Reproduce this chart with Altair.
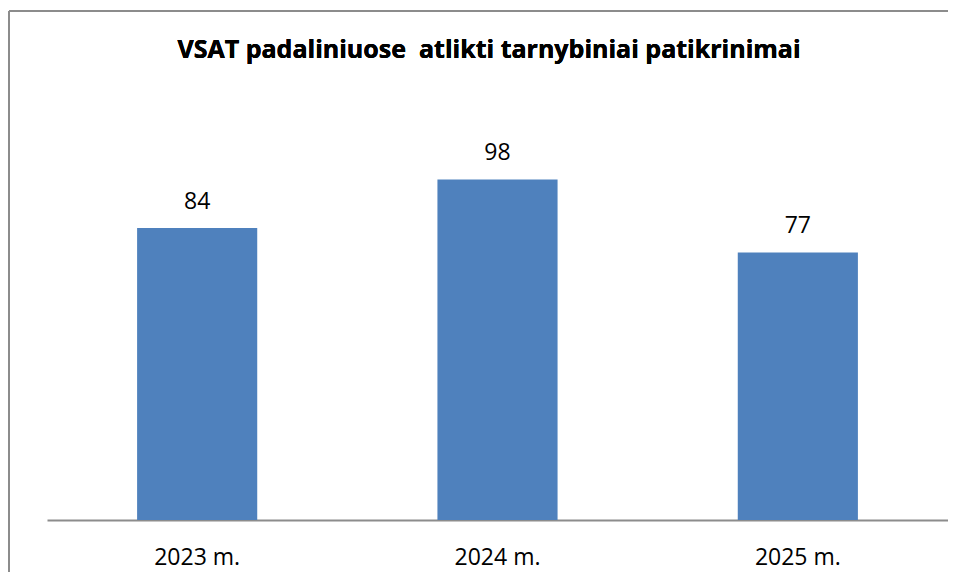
import altair as alt
import pandas as pd

categories = ["2023 m.", "2024 m.", "2025 m."]
values = [84, 98, 77]
title_text = "VSAT padaliniuose\u00a0 atlikti tarnybiniai patikrinimai"

df = pd.DataFrame({"metai": categories, "patikrinimai": values})

W, H = 901, 417
FONT = "Open Sans"
BORDER = "#8c8c8c"

x = alt.X("metai:N", sort=categories, title=None,
          scale=alt.Scale(paddingInner=0.6, paddingOuter=0.3),
          axis=alt.Axis(labelAngle=0, ticks=False, tickSize=0, labelPadding=26,
                        labelFontSize=23, labelFont=FONT, labelColor="#000000",
                        domainColor=BORDER, domainWidth=2, grid=False))
y = alt.Y("patikrinimai:Q", title=None, scale=alt.Scale(domain=[0, 120]), axis=None)

bars = alt.Chart(df).mark_bar(color="#4F81BD").encode(x=x, y=y)
labels = alt.Chart(df).mark_text(font=FONT, fontSize=23, color="#000000",
                                 baseline="alphabetic", dy=-19).encode(
    x=alt.X("metai:N", sort=categories), y="patikrinimai:Q", text="patikrinimai:Q")

left_border = alt.Chart(df).mark_rule(color=BORDER, strokeWidth=2).encode(
    x=alt.value(-38), y=alt.value(-92), y2=alt.value(H + 60))
top_border = alt.Chart(df).mark_rule(color=BORDER, strokeWidth=2).encode(
    y=alt.value(-92), x=alt.value(-38), x2=alt.value(W + 20))
title = alt.Chart(df).mark_text(font=FONT, fontSize=25, fontWeight="bold", color="#000000",
                                baseline="alphabetic", align="center").encode(
    x=alt.value(W / 2 - 8.5), y=alt.value(-45), text=alt.value(title_text))

chart = alt.layer(bars, labels, left_border, top_border, title).properties(
    width=W, height=H,
    autosize=alt.AutoSizeParams(type="none"),
    padding={"left": 39, "top": 95, "right": 0, "bottom": 52},
    background="#ffffff",
).configure_view(stroke=None)

chart.save("out.html", embed_options={"renderer": "svg", "actions": False})
